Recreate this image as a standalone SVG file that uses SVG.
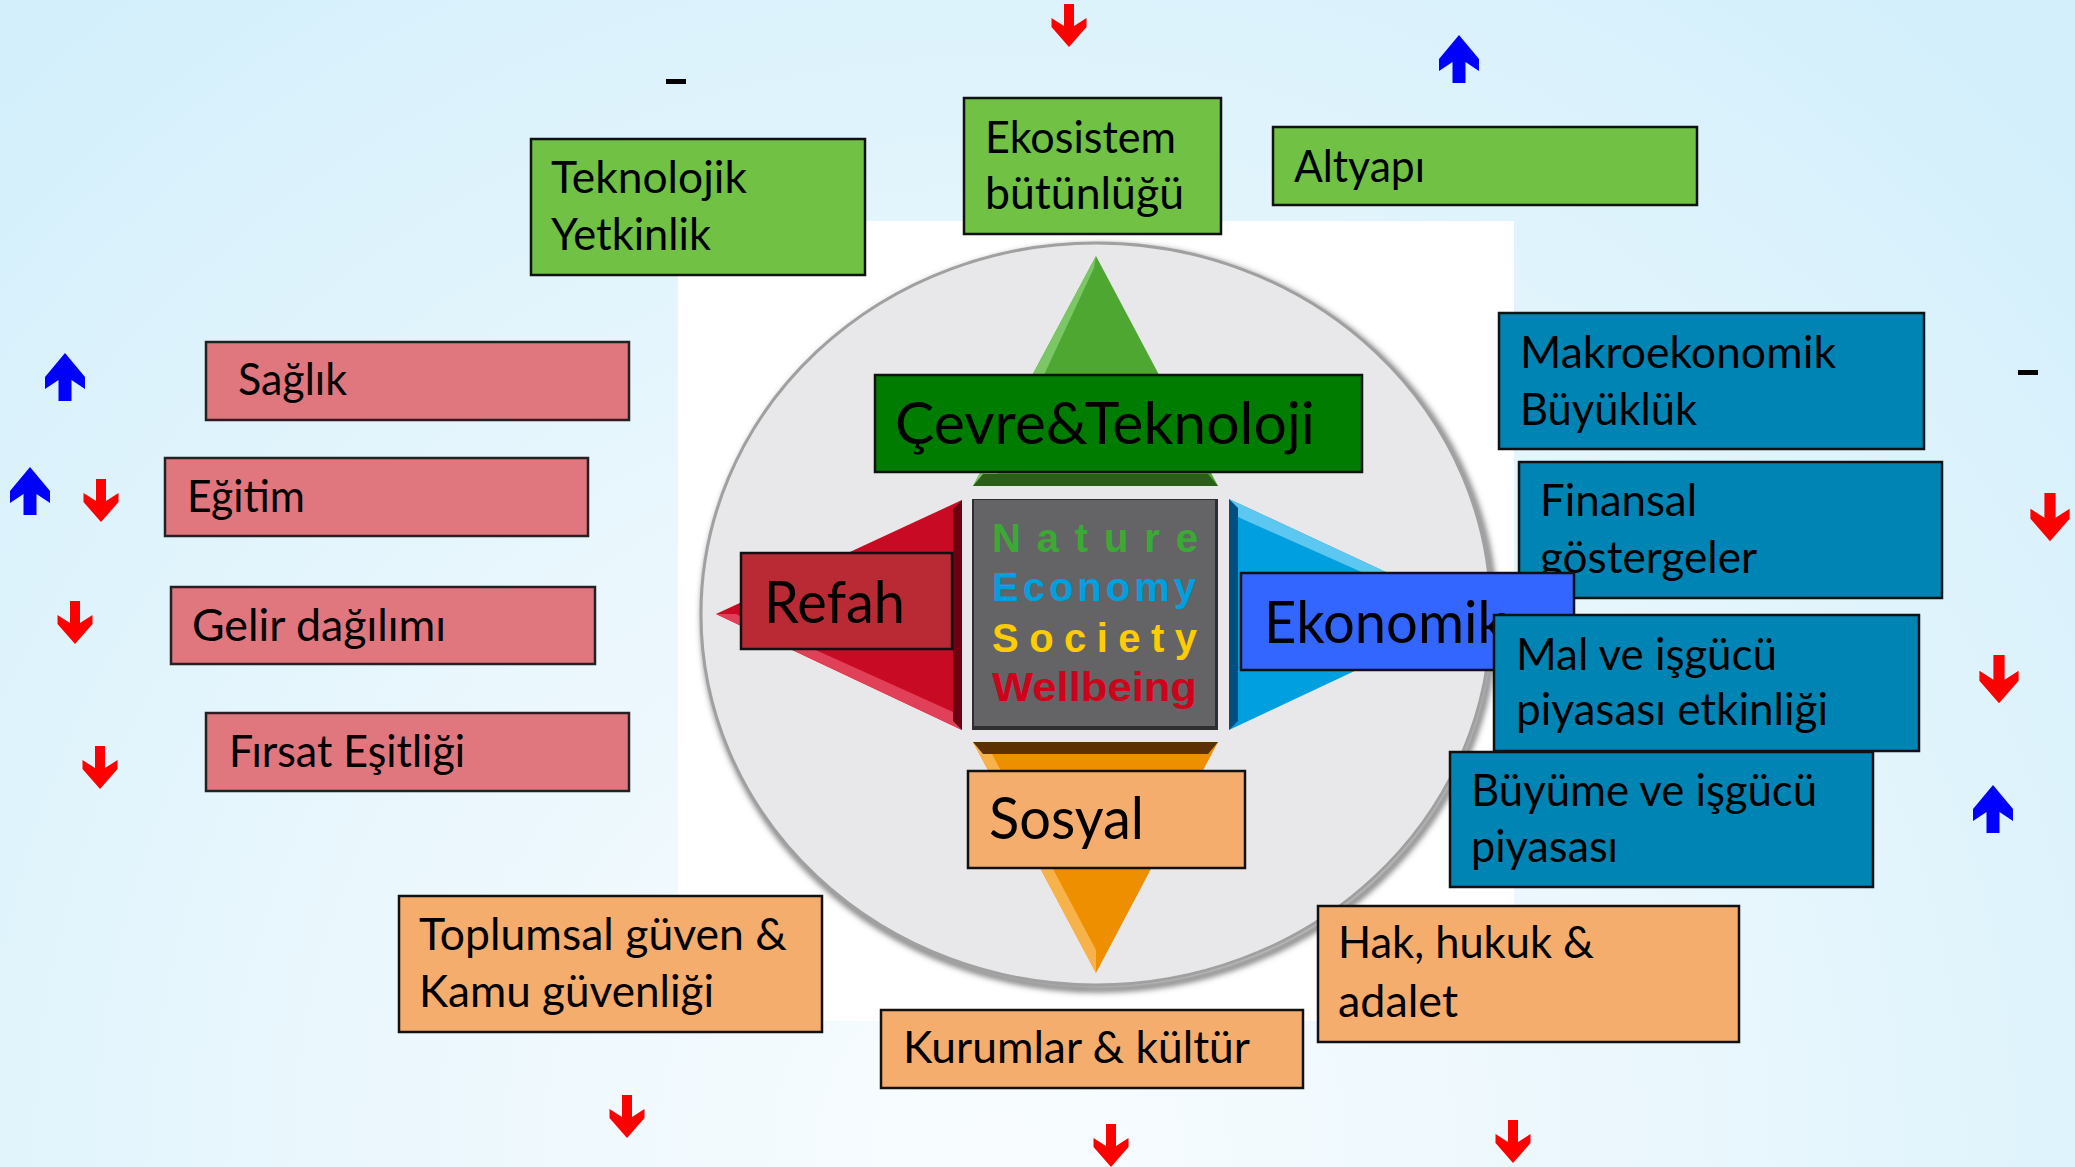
<svg xmlns="http://www.w3.org/2000/svg" xmlns:xlink="http://www.w3.org/1999/xlink" width="2075" height="1167" viewBox="0 0 2075 1167">
<defs>
<style>
.t{font-family:Lato,"Open Sans","Liberation Sans",sans-serif;font-size:44px;fill:#000}
.big{font-family:Lato,"Open Sans","Liberation Sans",sans-serif;font-size:58px;fill:#000}
.nesw{font-family:"Liberation Sans",Arial,sans-serif;font-weight:bold;font-size:40px}
.green{fill:#70c144;stroke:#111;stroke-width:2.5}
.pink{fill:#e0767e;stroke:#222;stroke-width:2.5}
.blue{fill:#0084b3;stroke:#111;stroke-width:2.5}
.orange{fill:#f5ad6d;stroke:#111;stroke-width:2.5}
.dn{fill:#ff0000}
.up{fill:#0000ff}
</style>
<radialGradient id="bg" cx="1000" cy="1150" r="1500" gradientUnits="userSpaceOnUse">
<stop offset="0" stop-color="#f8fcff"/>
<stop offset="0.45" stop-color="#eaf7fd"/>
<stop offset="1" stop-color="#d2effb"/>
</radialGradient>
<filter id="blur" x="-10%" y="-10%" width="120%" height="120%"><feGaussianBlur stdDeviation="3"/></filter>
<polygon id="dn" class="dn" points="-5,0 5,0 5,22 17.5,14 17.5,23 0,43 -17.5,23 -17.5,14 -5,22"/>
<polygon id="up" class="up" points="0,0 20,24 20,36 6.5,27 6.5,48 -6.5,48 -6.5,27 -20,36 -20,24"/>
</defs>

<rect x="0" y="0" width="2075" height="1167" fill="url(#bg)"/>
<rect x="678" y="221" width="836" height="800" fill="#ffffff"/>

<g id="wheel">
<ellipse cx="1099" cy="618" rx="395" ry="371" fill="none" stroke="#555" stroke-width="5" filter="url(#blur)"/>
<ellipse cx="1096" cy="614" rx="395" ry="371" fill="#e8e8ea" stroke="#a0a0a0" stroke-width="3"/>
<!-- green -->
<polygon points="1096,256 1218,486 973,486" fill="#4da731"/>
<polygon points="1096,256 973,486 992,486 1094,268" fill="#7cc765"/>
<polygon points="973,486 1218,486 1208,474 983,474" fill="#2b5e16"/>
<!-- red -->
<polygon points="716,614 962,500 962,730" fill="#c90a25"/>
<polygon points="716,614 962,730 962,716 736,614" fill="#e04058"/>
<polygon points="962,500 962,730 953,721 953,509" fill="#6a0010"/>
<!-- blue -->
<polygon points="1476,614 1229,499 1229,730" fill="#009fe0"/>
<polygon points="1476,614 1229,499 1229,513 1456,614" fill="#5cc8f2"/>
<polygon points="1229,499 1229,730 1238,721 1238,508" fill="#004f80"/>
<!-- orange -->
<polygon points="973,742 1218,742 1096,973" fill="#ee8f00"/>
<polygon points="973,742 1096,973 1096,950 992,754" fill="#f7b34a"/>
<polygon points="973,742 1218,742 1208,754 983,754" fill="#5c3000"/>
<!-- center square -->
<rect x="972" y="499" width="246" height="231" fill="#2e2e30"/>
<rect x="974" y="500" width="241" height="226" fill="#646467"/>
<text class="nesw" x="992" y="552" fill="#3aaa35" textLength="206" lengthAdjust="spacing">Nature</text>
<text class="nesw" x="992" y="601" fill="#00a0e0" textLength="204" lengthAdjust="spacing">Economy</text>
<text class="nesw" x="992" y="652" fill="#ffcc00" textLength="205" lengthAdjust="spacing">Society</text>
<text class="nesw" x="992" y="701" fill="#d0021b" textLength="205" lengthAdjust="spacingAndGlyphs">Wellbeing</text>
</g>

<g id="cevre">
<rect x="875" y="375" width="487" height="97" fill="#007c00" stroke="#111" stroke-width="2.5"/>
<text class="big" x="895" y="444" textLength="420" lengthAdjust="spacingAndGlyphs">Çevre&amp;Teknoloji</text>
</g>
<g id="refah">
<rect x="741" y="553" width="211" height="96" fill="#b92a35" stroke="#111" stroke-width="2.5"/>
<text class="big" x="764" y="623" textLength="141" lengthAdjust="spacingAndGlyphs">Refah</text>
</g>
<g id="sosyal">
<rect x="968" y="771" width="277" height="97" class="orange"/>
<text class="big" x="989" y="839" textLength="155" lengthAdjust="spacingAndGlyphs">Sosyal</text>
</g>

<g id="teknolojik">
<rect x="531" y="139" width="334" height="136" class="green"/>
<text class="t" x="551" y="193" textLength="196" lengthAdjust="spacingAndGlyphs">Teknolojik</text>
<text class="t" x="551" y="250" textLength="160" lengthAdjust="spacingAndGlyphs">Yetkinlik</text>
</g>
<g id="ekosistem">
<rect x="964" y="98" width="257" height="136" class="green"/>
<text class="t" x="985" y="153" textLength="191" lengthAdjust="spacingAndGlyphs">Ekosistem</text>
<text class="t" x="985" y="209" textLength="199" lengthAdjust="spacingAndGlyphs">bütünlüğü</text>
</g>
<g id="altyapi">
<rect x="1273" y="127" width="424" height="78" class="green"/>
<text class="t" x="1294" y="182" textLength="131" lengthAdjust="spacingAndGlyphs">Altyapı</text>
</g>

<g id="saglik">
<rect x="206" y="342" width="423" height="78" class="pink"/>
<text class="t" x="238" y="395" textLength="109" lengthAdjust="spacingAndGlyphs">Sağlık</text>
</g>
<g id="egitim">
<rect x="165" y="458" width="423" height="78" class="pink"/>
<text class="t" x="187" y="512" textLength="118" lengthAdjust="spacingAndGlyphs">Eğitim</text>
</g>
<g id="gelir">
<rect x="171" y="587" width="424" height="77" class="pink"/>
<text class="t" x="192" y="641" textLength="254" lengthAdjust="spacingAndGlyphs">Gelir dağılımı</text>
</g>
<g id="firsat">
<rect x="206" y="713" width="423" height="78" class="pink"/>
<text class="t" x="229" y="767" textLength="236" lengthAdjust="spacingAndGlyphs">Fırsat Eşitliği</text>
</g>

<g id="makro">
<rect x="1499" y="313" width="425" height="136" class="blue"/>
<text class="t" x="1520" y="368" textLength="316" lengthAdjust="spacingAndGlyphs">Makroekonomik</text>
<text class="t" x="1520" y="425" textLength="177" lengthAdjust="spacingAndGlyphs">Büyüklük</text>
</g>
<g id="finansal">
<rect x="1519" y="462" width="423" height="136" class="blue"/>
<text class="t" x="1540" y="516" textLength="157" lengthAdjust="spacingAndGlyphs">Finansal</text>
<text class="t" x="1540" y="573" textLength="217" lengthAdjust="spacingAndGlyphs">göstergeler</text>
</g>
<g id="ekonomik">
<rect x="1241" y="573" width="333" height="97" fill="#3366ff" stroke="#111" stroke-width="2.5"/>
<text class="big" x="1264" y="643" textLength="242" lengthAdjust="spacingAndGlyphs">Ekonomik</text>
</g>
<g id="mal">
<rect x="1494" y="615" width="425" height="136" class="blue"/>
<text class="t" x="1516" y="670" textLength="261" lengthAdjust="spacingAndGlyphs">Mal ve işgücü</text>
<text class="t" x="1516" y="725" textLength="312" lengthAdjust="spacingAndGlyphs">piyasası etkinliği</text>
</g>
<g id="buyume">
<rect x="1450" y="752" width="423" height="135" class="blue"/>
<text class="t" x="1471" y="806" textLength="346" lengthAdjust="spacingAndGlyphs">Büyüme ve işgücü</text>
<text class="t" x="1471" y="862" textLength="147" lengthAdjust="spacingAndGlyphs">piyasası</text>
</g>

<g id="toplumsal">
<rect x="399" y="896" width="423" height="136" class="orange"/>
<text class="t" x="419" y="950" textLength="368" lengthAdjust="spacingAndGlyphs">Toplumsal güven &amp;</text>
<text class="t" x="419" y="1007" textLength="295" lengthAdjust="spacingAndGlyphs">Kamu güvenliği</text>
</g>
<g id="kurumlar">
<rect x="881" y="1010" width="422" height="78" class="orange"/>
<text class="t" x="903" y="1063" textLength="347" lengthAdjust="spacingAndGlyphs">Kurumlar &amp; kültür</text>
</g>
<g id="hak">
<rect x="1318" y="906" width="421" height="136" class="orange"/>
<text class="t" x="1338" y="958" textLength="256" lengthAdjust="spacingAndGlyphs">Hak, hukuk &amp;</text>
<text class="t" x="1338" y="1017" textLength="120" lengthAdjust="spacingAndGlyphs">adalet</text>
</g>

<g id="indicators">
<use xlink:href="#dn" transform="translate(1069,4)"/>
<use xlink:href="#up" transform="translate(1459,35)"/>
<rect x="666" y="79" width="20" height="5" fill="#000"/>
<use xlink:href="#up" transform="translate(65,353)"/>
<use xlink:href="#up" transform="translate(30,467)"/>
<use xlink:href="#dn" transform="translate(101,479)"/>
<use xlink:href="#dn" transform="translate(75,601)"/>
<use xlink:href="#dn" transform="translate(100,746)"/>
<rect x="2018" y="370" width="20" height="5" fill="#000"/>
<use xlink:href="#dn" transform="translate(2050,493) scale(1.12)"/>
<use xlink:href="#dn" transform="translate(1999,655) scale(1.12)"/>
<use xlink:href="#up" transform="translate(1993,785)"/>
<use xlink:href="#dn" transform="translate(627,1095)"/>
<use xlink:href="#dn" transform="translate(1111,1124)"/>
<use xlink:href="#dn" transform="translate(1513,1120)"/>
</g>
</svg>
